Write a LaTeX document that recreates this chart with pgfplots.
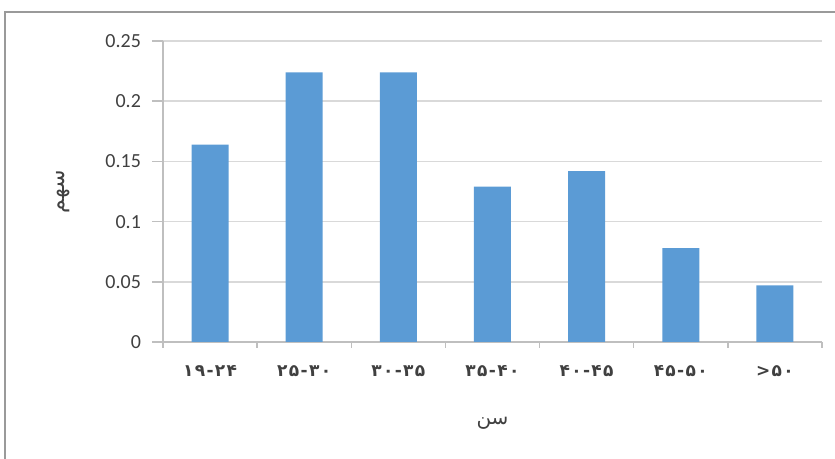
\documentclass[border=0pt]{standalone}
\usepackage{pgfplots}
\pgfplotsset{compat=1.18}
\usepackage{fontspec}
\setmainfont{Carlito}
\newfontfamily\arabicfont[Script=Arabic]{DejaVu Sans}
\newfontfamily\digitfont[LetterSpace=8]{DejaVu Sans}
\TeXXeTstate=1
\definecolor{barblue}{HTML}{5B9BD5}
\definecolor{gridgray}{HTML}{D9D9D9}
\definecolor{axisgray}{HTML}{BFBFBF}
\definecolor{textgray}{HTML}{404040}
\definecolor{framegray}{HTML}{9A9A9A}
\begin{document}
\begin{tikzpicture}
\path[use as bounding box] (-81.5pt,-58.5pt) rectangle (336pt,171pt);
\draw[framegray, line width=1pt] (-79pt,-70pt) -- (-79pt,165pt) -- (345pt,165pt);
\begin{axis}[
  name=ax, at={(0,0)}, anchor=south west, scale only axis,
  width=329.5pt, height=150.5pt,
  xmin=-0.5, xmax=6.5, ymin=0, ymax=0.25,
  axis x line*=bottom, axis y line*=left,
  axis line style={axisgray, line width=0.75pt},
  ytick={0,0.05,0.1,0.15,0.2,0.25},
  yticklabels={0,0.05,0.1,0.15,0.2,0.25},
  ymajorgrids, grid style={gridgray, line width=0.75pt},
  xtick={-0.5,0.5,1.5,2.5,3.5,4.5,5.5,6.5},
  x tick label as interval,
  xticklabels={۱۹-۲۴,۲۵-۳۰,۳۰-۳۵,۳۵-۴۰,۴۰-۴۵,۴۵-۵۰,>۵۰},
  tick align=outside,
  major tick length=5.5pt,
  xtick style={/pgfplots/major tick length=3pt},
  tick style={axisgray, line width=0.75pt},
  yticklabel style={font=\fontsize{10}{12}\selectfont, text=textgray, xshift=-2pt},
  xticklabel style={font=\digitfont\bfseries\fontsize{8.5}{10}\selectfont, text=textgray, anchor=center, yshift=-9pt},
  xlabel={\arabicfont\beginR سن\endR},
  ylabel={\arabicfont\beginR سهم\endR},
  xlabel style={font=\fontsize{10}{12}\selectfont, text=textgray, at={(axis description cs:0.5,-0.27)}, anchor=center},
  ylabel style={font=\fontsize{11}{13}\selectfont, text=textgray, at={(axis description cs:-0.1517,0.5)}, anchor=center},
]
\addplot[ybar, bar width=18.5pt, fill=barblue, draw=none] coordinates {
  (0,0.164) (1,0.224) (2,0.224) (3,0.129) (4,0.142) (5,0.078) (6,0.047)
};
\end{axis}
\end{tikzpicture}
\end{document}
